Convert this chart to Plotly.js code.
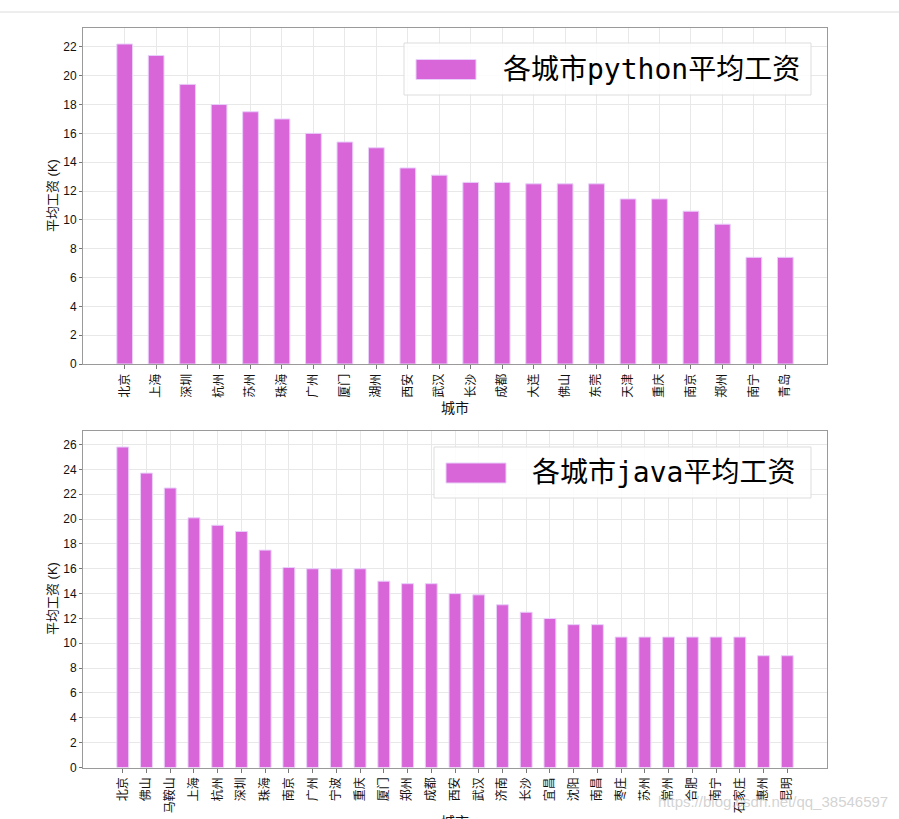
<!DOCTYPE html>
<html>
<head>
<meta charset="utf-8">
<script src="https://cdn.plot.ly/plotly-3.0.1.min.js"></script>
<style>html,body{margin:0;padding:0;background:#fff;}#chart{width:899px;height:819px;}</style>
</head>
<body>
<div id="chart"></div>
<script>
const pyCities = ["北京","上海","深圳","杭州","苏州","珠海","广州","厦门","湖州","西安","武汉","长沙","成都","大连","佛山","东莞","天津","重庆","南京","郑州","南宁","青岛"];
const pyValues = [22.2,21.4,19.4,18.0,17.5,17.0,16.0,15.4,15.0,13.6,13.1,12.6,12.6,12.5,12.5,12.5,11.45,11.45,10.6,9.7,7.4,7.4];
const javaCities = ["北京","佛山","马鞍山","上海","杭州","深圳","珠海","南京","广州","宁波","重庆","厦门","郑州","成都","西安","武汉","济南","长沙","宜昌","沈阳","南昌","枣庄","苏州","常州","合肥","南宁","石家庄","惠州","昆明"];
const javaValues = [25.8,23.7,22.5,20.1,19.5,19.0,17.5,16.1,16.0,16.0,16.0,15.0,14.8,14.8,14.0,13.9,13.1,12.5,12.0,11.5,11.5,10.5,10.5,10.5,10.5,10.5,10.5,9.0,9.0];
const pyLegend = "各城市python平均工资";
const javaLegend = "各城市java平均工资";
const xTitle = "城市";
const yTitle = "平均工资 (K)";

const W = 899, H = 819;
const px = x => x / W;
const py = y => 1 - y / H;

const barColor = "rgb(216,102,216)";
const barEdge = "rgba(232,208,250,1)";
const cjk = "Liberation Sans, Noto Sans CJK SC, sans-serif";
const legendFont = "DejaVu Sans Mono, Noto Sans CJK SC, monospace";

function margin(n){ const lo=-0.25, hi=n-1+0.25, m=(hi-lo)*0.05; return [lo-m, hi+m]; }

const traces = [
  {type:"bar", x: pyCities, y: pyValues, width:0.5, xaxis:"x", yaxis:"y",
   marker:{color:barColor, line:{color:barEdge, width:1}}, name: pyLegend, showlegend:false},
  {type:"bar", x: javaCities, y: javaValues, width:0.5, xaxis:"x2", yaxis:"y2",
   marker:{color:barColor, line:{color:barEdge, width:1}}, name: javaLegend, showlegend:false}
];

const axCommon = {
  showline:true, mirror:true, linecolor:"#9a9a9a", linewidth:1,
  showgrid:true, gridcolor:"#e8e8e8", gridwidth:1,
  ticks:"outside", ticklen:4, tickcolor:"#777", tickwidth:1,
  tickfont:{family:cjk, size:12, color:"#111"}, zeroline:false, automargin:false, fixedrange:true
};

const layout = {
  width: W, height: H,
  margin:{l:0,r:0,t:0,b:0},
  paper_bgcolor:"#fff", plot_bgcolor:"#fff",
  showlegend:false,
  bargap:0,
  xaxis: Object.assign({}, axCommon, {domain:[px(83),px(827)], anchor:"y", type:"category",
          range: margin(pyCities.length), tickangle:-90}),
  yaxis: Object.assign({}, axCommon, {domain:[py(364),py(28)], anchor:"x", range:[0, Math.max(...pyValues)*1.05], dtick:2, ticklen:3}),
  xaxis2: Object.assign({}, axCommon, {domain:[px(83),px(827)], anchor:"y2", type:"category",
          range: margin(javaCities.length), tickangle:-90}),
  yaxis2: Object.assign({}, axCommon, {domain:[py(767.5),py(431)], anchor:"x2", range:[0, Math.max(...javaValues)*1.05], dtick:2, ticklen:3}),
  shapes:[
    {type:"line", xref:"paper", yref:"paper", x0:0, x1:1, y0:py(12), y1:py(12), line:{color:"#dcdcdc", width:1}},
    {type:"rect", xref:"paper", yref:"paper", x0:px(404), x1:px(811), y0:py(95), y1:py(43),
     line:{color:"#dddddd", width:1}, fillcolor:"rgba(255,255,255,0.85)"},
    {type:"rect", xref:"paper", yref:"paper", x0:px(416), x1:px(476), y0:py(79.5), y1:py(59.5),
     line:{color:barEdge, width:1}, fillcolor:barColor},
    {type:"rect", xref:"paper", yref:"paper", x0:px(434), x1:px(811), y0:py(498), y1:py(447),
     line:{color:"#dddddd", width:1}, fillcolor:"rgba(255,255,255,0.85)"},
    {type:"rect", xref:"paper", yref:"paper", x0:px(446), x1:px(506), y0:py(483), y1:py(463),
     line:{color:barEdge, width:1}, fillcolor:barColor}
  ],
  annotations:[
    {xref:"paper", yref:"paper", x:px(501), y:py(69), xanchor:"left", yanchor:"middle", showarrow:false,
     text: pyLegend, font:{family:legendFont, size:28, color:"#000"}},
    {xref:"paper", yref:"paper", x:px(530), y:py(472.5), xanchor:"left", yanchor:"middle", showarrow:false,
     text: javaLegend, font:{family:legendFont, size:28, color:"#000"}},
    {xref:"paper", yref:"paper", x:px(455), y:py(408), xanchor:"center", yanchor:"middle", showarrow:false,
     text: xTitle, font:{family:cjk, size:14, color:"#111"}},
    {xref:"paper", yref:"paper", x:px(455), y:py(822), xanchor:"center", yanchor:"middle", showarrow:false,
     text: xTitle, font:{family:cjk, size:14, color:"#111"}},
    {xref:"paper", yref:"paper", x:px(52), y:py(196), xanchor:"center", yanchor:"middle", showarrow:false, textangle:-90,
     text: yTitle, font:{family:cjk, size:13, color:"#111"}},
    {xref:"paper", yref:"paper", x:px(52), y:py(599), xanchor:"center", yanchor:"middle", showarrow:false, textangle:-90,
     text: yTitle, font:{family:cjk, size:13, color:"#111"}},
    {xref:"paper", yref:"paper", x:px(890), y:py(801), xanchor:"right", yanchor:"middle", showarrow:false,
     text: "https://blog.csdn.net/qq_38546597", font:{family:"Liberation Sans, sans-serif", size:15, color:"rgba(200,200,200,0.8)"}}
  ]
};

Plotly.newPlot("chart", traces, layout, {staticPlot:true, displayModeBar:false});
</script>
</body>
</html>
